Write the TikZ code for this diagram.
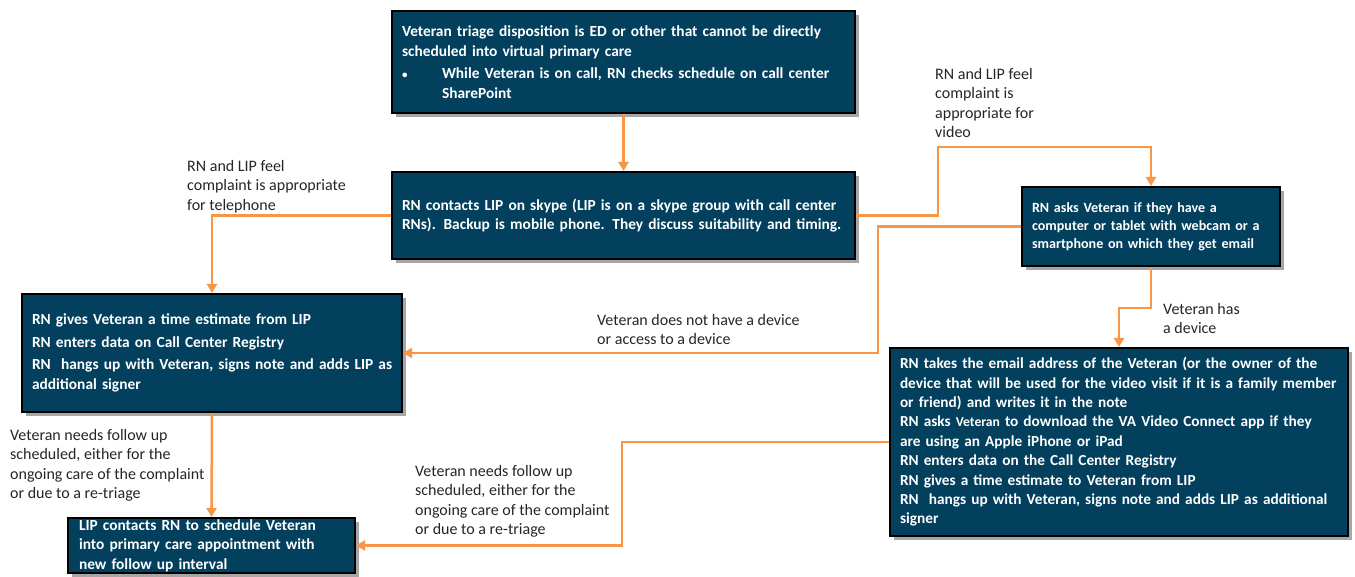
\documentclass[tikz,border=0pt]{standalone}
\usepackage{fontspec}
\setmainfont{Carlito}
\usetikzlibrary{arrows.meta,shadows}
\definecolor{boxblue}{RGB}{2,64,94}
\definecolor{connc}{RGB}{247,150,70}
\definecolor{lblc}{RGB}{38,38,38}
\tikzset{
  fbox/.style={draw=black, line width=2pt, fill=boxblue, text=white,
    font=\bfseries\fontsize{15.4}{19.5}\selectfont, align=left,
    inner xsep=10pt, inner ysep=0pt,
    drop shadow={shadow xshift=4pt, shadow yshift=-4pt, fill=black, opacity=0.35}},
  conn/.style={draw=connc, line width=2.5pt, -{Triangle[length=9pt,width=10pt]}},
  lab/.style={anchor=north west, inner sep=0pt, align=left, text=lblc,
    font=\fontsize{16}{19.4}\selectfont},
}
\begin{document}
\begin{tikzpicture}[x=1pt,y=-1pt]
\useasboundingbox[fill=white] (0,0) rectangle (1355,577);

\node[fbox, text width=443pt, minimum height=102pt] (b1) at (623.5,62)
  {Veteran triage disposition is ED or other that cannot be directly\\
   scheduled into virtual primary care\\[3pt]
   \makebox[40pt][l]{\fontsize{11}{11}\selectfont•}While Veteran is on call, RN checks schedule on call center\\
   \hspace*{40pt}SharePoint};

\node[fbox, text width=443pt, minimum height=87pt] (b2) at (623.5,215.5)
  {RN contacts LIP on skype (LIP is on a skype group with call center\\
   RNs). Backup is mobile phone. They discuss suitability and timing.};

\node[fbox, text width=238pt, minimum height=79pt,
  font=\bfseries\fontsize{14.1}{18}\selectfont] (b3) at (1151,226.5)
  {RN asks Veteran if they have a\\
   computer or tablet with webcam or a\\
   smartphone on which they get email};

\node[fbox, text width=360pt, minimum height=118pt] (b4) at (212,353)
  {RN gives Veteran a time estimate from LIP\\[3pt]
   RN enters data on Call Center Registry\\[3pt]
   \mbox{RN\ \ hangs up with Veteran, signs note and adds LIP as}\\
   additional signer};

\node[fbox, text width=438pt, minimum height=188pt,
  font=\bfseries\fontsize{15.3}{19.4}\selectfont] (b5) at (1119,442)
  {RN takes the email address of the Veteran (or the owner of the\\
   device that will be used for the video visit if it is a family member\\
   or friend) and writes it in the note\\
   RN asks {\fontsize{13.6}{19.4}\selectfont Veteran} to download the VA Video Connect app if they\\
   are using an Apple iPhone or iPad\\
   RN enters data on the Call Center Registry\\
   RN gives a time estimate to Veteran from LIP\\
   \mbox{RN\ \ hangs up with Veteran, signs note and adds LIP as additional}\\
   signer};

\node[fbox, text width=265pt, inner xsep=11pt, minimum height=55pt] (b6) at (211.5,545.5)
  {\raisebox{-2pt}{LIP contacts RN to schedule Veteran}\\
   \raisebox{-2pt}{into primary care appointment with}\\
   \raisebox{-2pt}{new follow up interval}};

\node[lab] (l1) at (187,160) {RN and LIP feel\\complaint is appropriate\\for telephone};
\node[lab] (l2) at (935,68) {RN and LIP feel\\complaint is\\appropriate for\\video};
\node[lab] (l3) at (597,314) {Veteran does not have a device\\or access to a device};
\node[lab] (l4) at (1163,303) {Veteran has\\a device};
\node[lab] (l5) at (10,429) {Veteran needs follow up\\scheduled, either for the\\ongoing care of the complaint\\or due to a re-triage};
\node[lab] (l6) at (415,465) {Veteran needs follow up\\scheduled, either for the\\ongoing care of the complaint\\or due to a re-triage};

\coordinate (c1) at (938,147);
\coordinate (c2) at (878,353);
\coordinate (c3) at (1119,308);
\coordinate (c4) at (622,545.5);

\draw[conn] (b1.south) -- (b2.north);
\draw[conn] (b2.west) -| (b4.north);
\draw[conn] (b2.east) -| (c1) -| (b3.north);
\draw[conn] (b3.west) -| (c2) -- (b4.east);
\draw[conn] (b3.south) |- (c3) -- (b5.north);
\draw[conn] (b4.south) -- (b6.north);
\draw[conn] (b5.west) -| (c4) -- (b6.east);
\end{tikzpicture}
\end{document}
